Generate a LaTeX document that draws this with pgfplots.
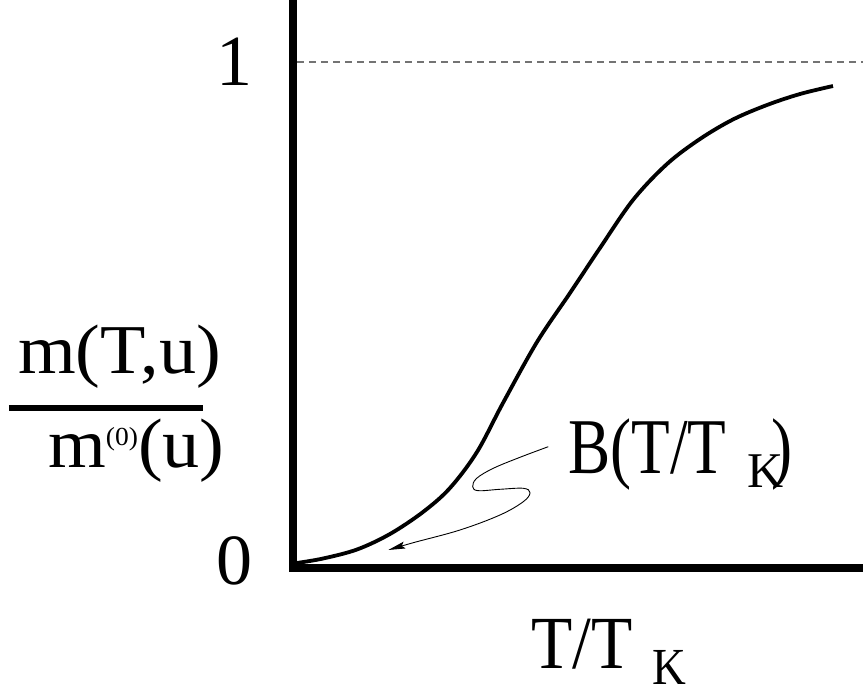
\documentclass[border=0pt]{standalone}
\usepackage{fontspec}
\setmainfont{Liberation Serif}
\usepackage{graphicx}
\usepackage{pgfplots}
\pgfplotsset{compat=1.18}
\usetikzlibrary{arrows.meta}

\begin{document}
\begin{tikzpicture}
% page = 863 x 693, axis corner at (0,0)
\useasboundingbox (-293pt,-124.5pt) rectangle (570pt,568.5pt);

\begin{axis}[
  scale only axis, width=570pt, height=568.5pt,
  xmin=0, xmax=1.05556, ymin=0, ymax=1.12241,
  axis x line=bottom, axis y line=left,
  axis line style={-, line width=8pt, line cap=rect},
  xtick=\empty,
  ytick={0.0148,1}, yticklabels={0,1},
  major tick length=0pt, tick style={draw=none},
  yticklabel style={anchor=center, xshift=-58pt, font=\fontsize{72}{72}\selectfont},
  /pgf/number format/assume math mode=true,
  clip=false,
]

%%%%%%%%%%%%%%%%%%%%%%%% saturation level %%%%%%%%%%%%%%%%%%%%%%%%
\addplot[no marks, black!55, line width=1.2pt, dash pattern=on 7pt off 5pt]
  coordinates {(0.008,1) (1.05556,1)};

%%%%%%%%%%%%%%%%%%%%%%%% B(T/T_K) curve %%%%%%%%%%%%%%%%%%%%%%%%%%
\addplot[no marks, black, line width=3.8pt, smooth, tension=0.55] coordinates {
  (0.0074,0.0109) (0.0556,0.0197) (0.1185,0.0375) (0.1796,0.0681)
  (0.2407,0.1115) (0.2907,0.1589) (0.3407,0.2300) (0.3889,0.3268)
  (0.4519,0.4472) (0.5130,0.5439) (0.5685,0.6328) (0.6296,0.7275)
  (0.6926,0.7986) (0.7537,0.8480) (0.8148,0.8865) (0.8778,0.9151)
  (0.9389,0.9368) (1.0000,0.9526)};

\end{axis}

%%%%%%%%%%%%%%%%%%%%%%%% annotations %%%%%%%%%%%%%%%%%%%%%%%%%%%%%
% y label as a fraction
\node[anchor=base west, inner sep=0] at (-275pt,194.5pt)
  {\scalebox{1.06}[1]{\fontsize{70}{70}\selectfont m(T,u)}};
\draw[line width=6pt] (-284pt,160.5pt) -- (-90pt,160.5pt);
\node[anchor=base west, inner sep=0] at (-245pt,100.5pt)
  {\scalebox{1.06}[1]{\fontsize{70}{70}\selectfont m\raisebox{22pt}{\fontsize{26}{26}\selectfont(0)}(u)}};

% x label
\node[anchor=base west, inner sep=0] at (238pt,-100.5pt)
  {\scalebox{0.9}[1]{\fontsize{75}{75}\selectfont T/T\kern22pt\raisebox{-16pt}{\fontsize{52}{52}\selectfont K}}};

% curve label
\node[anchor=base west, inner sep=0] at (275pt,94.5pt)
  {\fontsize{79}{79}\selectfont\scalebox{0.8}[1]{B(T/T}\kern21pt\raisebox{-14pt}{\fontsize{50}{50}\selectfont K}\kern-12pt\scalebox{0.8}[1]{)}};

% squiggly pointer
\begin{scope}[x=1pt, y=1pt]
\draw[line width=0.9pt, -{Stealth[length=17pt,width=7pt,inset=3pt]}]
  plot[smooth, tension=0.6] coordinates {
  (255.3,121.8) (227,111.2) (200.3,100.2) (183.7,90.2) (179.7,81.8)
  (185.3,77.8) (207,79.2) (230.3,80.2) (237,75.8) (230.3,66.8)
  (207,53.5) (167,38.5) (120.3,25.8) (95.3,18.5)};
\end{scope}

\end{tikzpicture}
\end{document}
